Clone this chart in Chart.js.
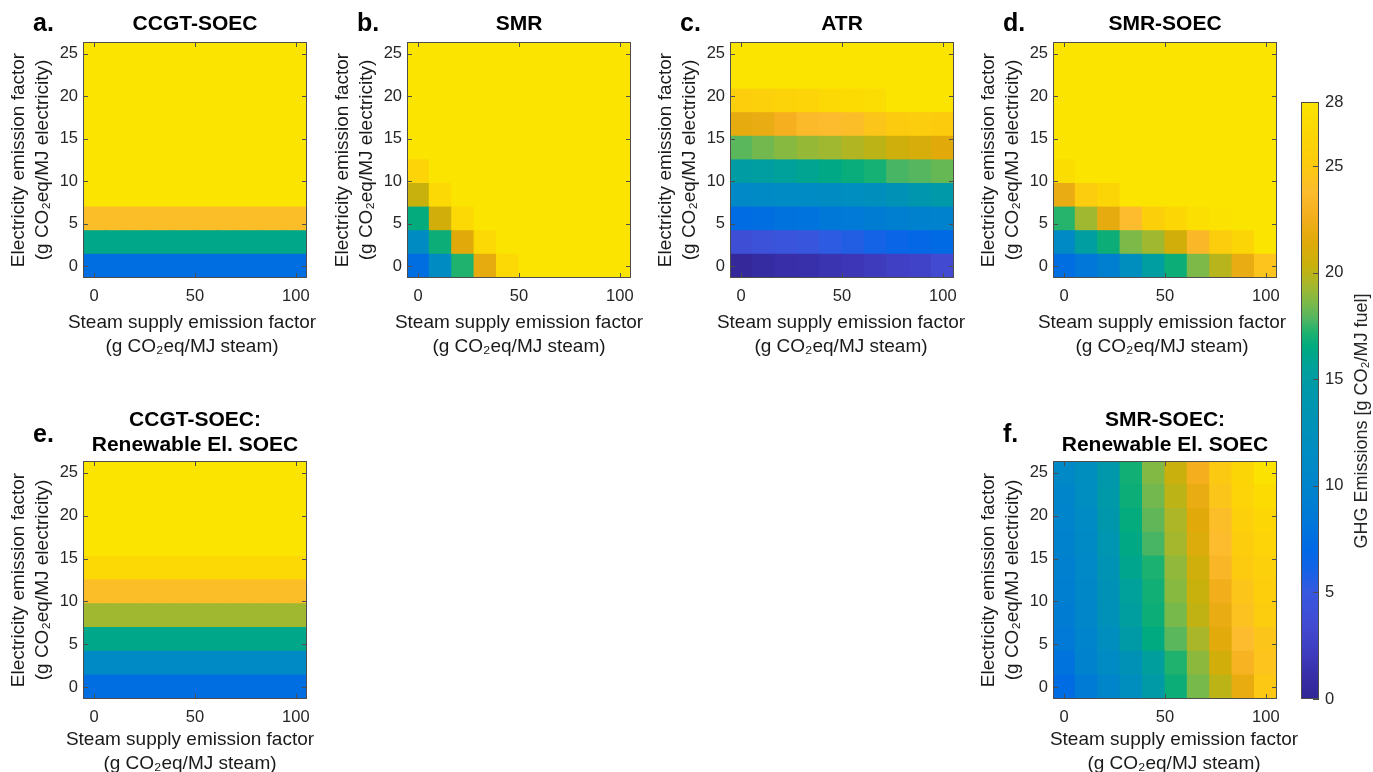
<!DOCTYPE html>
<html>
<head>
<meta charset="utf-8">
<script src="https://cdn.jsdelivr.net/npm/chart.js@4/dist/chart.umd.min.js"></script>
<style>
  html, body { margin: 0; padding: 0; background: #ffffff; width: 1373px; height: 772px; overflow: hidden; position: relative; }
  canvas { position: absolute; }
</style>
</head>
<body>
<canvas id="panelA" width="390" height="370" style="left:0px;top:0px"></canvas>
<canvas id="panelB" width="390" height="370" style="left:324px;top:0px"></canvas>
<canvas id="panelC" width="390" height="370" style="left:647px;top:0px"></canvas>
<canvas id="panelD" width="390" height="370" style="left:970px;top:0px"></canvas>
<canvas id="panelE" width="390" height="400" style="left:0px;top:381px"></canvas>
<canvas id="panelF" width="390" height="400" style="left:970px;top:381px"></canvas>
<canvas id="colorbar" width="93" height="640" style="left:1280px;top:80px"></canvas>
<script>
// ---------------- data ----------------
const steamValues = [0, 11.11, 22.22, 33.33, 44.44, 55.56, 66.67, 77.78, 88.89, 100];
const elecValues = [0, 2.778, 5.556, 8.333, 11.111, 13.889, 16.667, 19.444, 22.222, 25];
const xTickValues = [0, 50, 100];
const yTickValues = [0, 5, 10, 15, 20, 25];
const colorbarTicks = [0, 5, 10, 15, 20, 25, 28];
const colorMin = 0;
const colorMax = 28;

// rows: electricity factor from 0 (first row) to 25 (last row); columns: steam factor 0..100
const ghgCCGTSOEC = [
  [7.5, 7.5, 7.5, 7.5, 7.5, 7.5, 7.5, 7.5, 7.5, 7.5],
  [16.2, 16.2, 16.2, 16.2, 16.2, 16.2, 16.2, 16.2, 16.2, 16.2],
  [24, 24, 24, 24, 24, 24, 24, 24, 24, 24],
  [28, 28, 28, 28, 28, 28, 28, 28, 28, 28],
  [28, 28, 28, 28, 28, 28, 28, 28, 28, 28],
  [28, 28, 28, 28, 28, 28, 28, 28, 28, 28],
  [28, 28, 28, 28, 28, 28, 28, 28, 28, 28],
  [28, 28, 28, 28, 28, 28, 28, 28, 28, 28],
  [28, 28, 28, 28, 28, 28, 28, 28, 28, 28],
  [28, 28, 28, 28, 28, 28, 28, 28, 28, 28]
];
const ghgSMR = [
  [7.5, 11.5, 17.2, 21.8, 26.8, 28, 28, 28, 28, 28],
  [11.5, 16.8, 21.5, 26.8, 28, 28, 28, 28, 28, 28],
  [16.6, 20.8, 26.8, 28, 28, 28, 28, 28, 28, 28],
  [20.3, 26.8, 28, 28, 28, 28, 28, 28, 28, 28],
  [26.2, 28, 28, 28, 28, 28, 28, 28, 28, 28],
  [28, 28, 28, 28, 28, 28, 28, 28, 28, 28],
  [28, 28, 28, 28, 28, 28, 28, 28, 28, 28],
  [28, 28, 28, 28, 28, 28, 28, 28, 28, 28],
  [28, 28, 28, 28, 28, 28, 28, 28, 28, 28],
  [28, 28, 28, 28, 28, 28, 28, 28, 28, 28]
];
const ghgATR = [
  [0.3, 0.8, 1.1, 1.2, 1.5, 1.8, 2.1, 2.5, 2.8, 3.4],
  [4.0, 4.3, 4.5, 4.8, 5.3, 5.6, 6.0, 6.5, 6.8, 7.1],
  [7.3, 7.5, 7.8, 8.0, 8.4, 8.7, 9.0, 9.3, 9.6, 9.8],
  [11.0, 11.2, 11.3, 11.4, 11.6, 11.8, 12.2, 13.0, 14.0, 14.6],
  [15.0, 15.2, 15.5, 15.9, 16.3, 16.7, 17.0, 17.7, 17.9, 18.2],
  [18.0, 18.4, 18.8, 19.1, 19.3, 19.7, 20.0, 20.6, 21.0, 21.5],
  [21.8, 22.0, 22.8, 23.6, 23.8, 24.0, 24.6, 25.0, 25.2, 25.1],
  [25.5, 25.7, 26.0, 26.2, 26.8, 27.0, 27.2, 28, 28, 28],
  [28, 28, 28, 28, 28, 28, 28, 28, 28, 28],
  [28, 28, 28, 28, 28, 28, 28, 28, 28, 28]
];
const ghgSMRSOEC = [
  [7.5, 8.3, 9.3, 12.0, 15.2, 16.8, 18.6, 19.9, 22.0, 24.5],
  [11.2, 15.2, 16.8, 18.6, 19.3, 20.8, 23.5, 25.4, 26.4, 28],
  [17.3, 19.3, 21.8, 23.8, 25.6, 26.6, 27.5, 27.8, 28, 28],
  [22.0, 25.2, 26.4, 28, 28, 28, 28, 28, 28, 28],
  [27.3, 28, 28, 28, 28, 28, 28, 28, 28, 28],
  [28, 28, 28, 28, 28, 28, 28, 28, 28, 28],
  [28, 28, 28, 28, 28, 28, 28, 28, 28, 28],
  [28, 28, 28, 28, 28, 28, 28, 28, 28, 28],
  [28, 28, 28, 28, 28, 28, 28, 28, 28, 28],
  [28, 28, 28, 28, 28, 28, 28, 28, 28, 28]
];
const ghgCCGTRenewable = [
  [7.5, 7.5, 7.5, 7.5, 7.5, 7.5, 7.5, 7.5, 7.5, 7.5],
  [11.2, 11.2, 11.2, 11.2, 11.2, 11.2, 11.2, 11.2, 11.2, 11.2],
  [16.2, 16.2, 16.2, 16.2, 16.2, 16.2, 16.2, 16.2, 16.2, 16.2],
  [19.3, 19.3, 19.3, 19.3, 19.3, 19.3, 19.3, 19.3, 19.3, 19.3],
  [24, 24, 24, 24, 24, 24, 24, 24, 24, 24],
  [26.8, 26.8, 26.8, 26.8, 26.8, 26.8, 26.8, 26.8, 26.8, 26.8],
  [28, 28, 28, 28, 28, 28, 28, 28, 28, 28],
  [28, 28, 28, 28, 28, 28, 28, 28, 28, 28],
  [28, 28, 28, 28, 28, 28, 28, 28, 28, 28],
  [28, 28, 28, 28, 28, 28, 28, 28, 28, 28]
];
const ghgSMRSOECRenewable = [
  [7.3, 8.8, 10.3, 12.0, 14.7, 16.8, 18.5, 20.0, 21.9, 24.8],
  [8.0, 9.7, 11.3, 13.0, 15.4, 17.2, 18.9, 20.8, 23.0, 24.5],
  [8.6, 10.0, 12.0, 14.8, 16.5, 18.0, 19.5, 21.6, 23.8, 24.6],
  [9.0, 10.4, 12.8, 15.3, 16.8, 18.5, 20.1, 22.0, 24.3, 25.2],
  [9.3, 10.6, 13.0, 15.5, 16.9, 18.8, 20.3, 22.5, 24.6, 25.5],
  [9.5, 11.0, 13.3, 16.0, 17.1, 19.0, 20.6, 23.3, 25.0, 25.8],
  [9.7, 11.2, 13.7, 16.4, 17.7, 19.4, 21.2, 23.8, 25.4, 26.2],
  [10.0, 11.4, 14.2, 16.6, 18.1, 19.6, 21.5, 24.0, 25.8, 26.5],
  [10.3, 11.8, 14.6, 16.8, 18.4, 20.0, 22.0, 24.6, 26.2, 27.0],
  [10.8, 12.0, 14.5, 16.9, 18.7, 20.4, 22.7, 24.9, 26.4, 27.8]
];

const xAxisTitle = ['Steam supply emission factor', '(g CO\u2082eq/MJ steam)'];
const yAxisTitle = ['Electricity emission factor', '(g CO\u2082eq/MJ electricity)'];
const colorbarTitle = 'GHG Emissions [g CO\u2082/MJ fuel]';

// ---------------- colormap (parula-like, as seen in the colorbar) ----------------
const cmapStops = [0, 1, 2, 3.5, 5, 6, 7, 8.2, 9.7, 11.5, 13.5, 14.5, 15.5, 16.5, 17.2, 17.8, 18.6, 19.4, 20.3, 21.5, 22.7, 23.8, 25, 26.5, 28];
const cmapRGB = [
  [50,38,150],[55,45,165],[62,58,188],[65,75,210],[55,88,223],[20,98,230],[0,105,230],[0,118,218],
  [0,130,205],[0,140,195],[0,148,178],[0,152,170],[0,160,155],[0,170,128],[30,178,110],[80,182,98],
  [125,185,72],[165,183,45],[200,177,12],[225,170,10],[245,175,30],[252,188,45],[252,202,15],[252,214,5],[251,228,0]
];
function ghgColor(v) {
  const val = Math.max(colorMin, Math.min(colorMax, v));
  for (let i = 1; i < cmapStops.length; i++) {
    if (val <= cmapStops[i]) {
      const t = (val - cmapStops[i - 1]) / (cmapStops[i] - cmapStops[i - 1]);
      const a = cmapRGB[i - 1], b = cmapRGB[i];
      return 'rgb(' + a.map((c, k) => Math.round(c + (b[k] - c) * t)).join(',') + ')';
    }
  }
  const l = cmapRGB[cmapRGB.length - 1];
  return 'rgb(' + l.join(',') + ')';
}

// ---------------- chart setup ----------------
const FONT = '"Liberation Sans", Arial, Helvetica, sans-serif';
Chart.defaults.font.family = FONT;

const framePlugin = {
  id: 'frame',
  afterDraw(chart) {
    const { ctx, chartArea: a, scales } = chart;
    ctx.save();
    ctx.strokeStyle = '#4d4d4d';
    ctx.lineWidth = 1;
    const len = 5;
    ctx.beginPath();
    scales.x.ticks.forEach(t => {
      const px = Math.round(scales.x.getPixelForValue(t.value)) + 0.5;
      ctx.moveTo(px, a.bottom); ctx.lineTo(px, a.bottom - len);
      ctx.moveTo(px, a.top); ctx.lineTo(px, a.top + len);
    });
    scales.y.ticks.forEach(t => {
      const py = Math.round(scales.y.getPixelForValue(t.value)) + 0.5;
      ctx.moveTo(a.left, py); ctx.lineTo(a.left + len, py);
      ctx.moveTo(a.right, py); ctx.lineTo(a.right - len, py);
    });
    ctx.stroke();
    ctx.strokeRect(Math.round(a.left) + 0.5, Math.round(a.top) + 0.5, Math.round(a.right - a.left) - 1, Math.round(a.bottom - a.top) - 1);
    ctx.restore();
  }
};

// panel letter + x-axis title (drawn without width compression)
const labelPlugin = {
  id: 'panelLabels',
  afterDraw(chart, args, opts) {
    const { ctx, chartArea: a } = chart;
    ctx.save();
    ctx.fillStyle = '#000';
    ctx.font = 'bold 25px ' + FONT;
    ctx.textAlign = 'left';
    ctx.textBaseline = 'alphabetic';
    ctx.fillText(opts.letter, a.left - 50, a.top - opts.letterOffset);
    ctx.fillStyle = '#1a1a1a';
    ctx.font = '19px ' + FONT;
    ctx.textAlign = 'center';
    ctx.textBaseline = 'middle';
    const cx = (a.left + a.right) / 2 + opts.xTitleShift;
    opts.xTitle.forEach((line, i) => ctx.fillText(line, cx, a.bottom + opts.xTitleOffset + i * 24));
    ctx.restore();
  }
};

function makePanel(id, grid, titleLines, letter, bottomRow, xTitleShift) {
  const half = (elecValues[1] - elecValues[0]) / 2;
  const datasets = grid.map((row, r) => ({
    data: steamValues.map(s => ({ x: s, y: [elecValues[r] - half, elecValues[r] + half] })),
    backgroundColor: row.map(v => ghgColor(v)),
    borderWidth: 0,
    grouped: false,
    barPercentage: 1,
    categoryPercentage: 1,
    inflateAmount: 0.6,
    clip: 0
  }));
  return new Chart(document.getElementById(id), {
    type: 'bar',
    data: { datasets },
    options: {
      responsive: false,
      animation: false,
      devicePixelRatio: 1,
      events: [],
      layout: { padding: 0 },
      plugins: {
        legend: { display: false },
        tooltip: { enabled: false },
        title: {
          display: true,
          text: titleLines,
          color: '#000',
          font: { family: FONT, size: 21, weight: 'bold', lineHeight: 1.2 },
          padding: bottomRow ? { top: 26.9, bottom: 2.7 } : { top: 11.4, bottom: 5.4 }
        },
        panelLabels: { letter: letter, letterOffset: bottomRow ? 19 : 11, xTitle: xAxisTitle, xTitleOffset: bottomRow ? 41 : 45, xTitleShift: xTitleShift }
      },
      scales: {
        x: {
          type: 'linear', position: 'bottom', min: -5.556, max: 105.556, offset: false,
          grid: { display: false, drawTicks: false }, border: { display: false },
          afterBuildTicks: s => { s.ticks = xTickValues.map(v => ({ value: v })); },
          afterFit: s => { s.height = bottomRow ? 82 : 92; },
          ticks: { color: '#262626', font: { family: FONT, size: 16.5 }, padding: 8.5, maxRotation: 0, autoSkip: false },
          title: { display: false }
        },
        y: {
          type: 'linear', position: 'left', min: -1.389, max: 26.389,
          grid: { display: false, drawTicks: false }, border: { display: false },
          afterBuildTicks: s => { s.ticks = yTickValues.map(v => ({ value: v })); },
          afterFit: s => { s.width = 83; },
          ticks: { color: '#262626', font: { family: FONT, size: 16.5 }, padding: 5, autoSkip: false },
          title: { display: true, text: yAxisTitle, color: '#1a1a1a', font: { family: FONT, size: 19, lineHeight: 1.3 }, padding: { top: 6.2, bottom: 0 } }
        },
        yr: {
          type: 'linear', position: 'right', display: true,
          grid: { display: false, drawTicks: false }, border: { display: false },
          ticks: { display: false },
          afterFit: s => { s.width = 83; }
        }
      }
    },
    plugins: [framePlugin, labelPlugin]
  });
}

makePanel('panelA', ghgCCGTSOEC, 'CCGT-SOEC', 'a.', false, -3);
makePanel('panelB', ghgSMR, 'SMR', 'b.', false, 0);
makePanel('panelC', ghgATR, 'ATR', 'c.', false, -1);
makePanel('panelD', ghgSMRSOEC, 'SMR-SOEC', 'd.', false, -3);
makePanel('panelE', ghgCCGTRenewable, ['CCGT-SOEC:', 'Renewable El. SOEC'], 'e.', true, -5);
makePanel('panelF', ghgSMRSOECRenewable, ['SMR-SOEC:', 'Renewable El. SOEC'], 'f.', true, 9);

// ---------------- colorbar ----------------
const colorbarPlugin = {
  id: 'colorbarFill',
  beforeDatasetsDraw(chart) {
    const { ctx, chartArea: a, scales: { y } } = chart;
    const y0 = y.getPixelForValue(colorMin), y1 = y.getPixelForValue(colorMax);
    const g = ctx.createLinearGradient(0, y0, 0, y1);
    cmapStops.forEach((v, i) => g.addColorStop((v - colorMin) / (colorMax - colorMin), 'rgb(' + cmapRGB[i].join(',') + ')'));
    ctx.save();
    ctx.fillStyle = g;
    ctx.fillRect(a.left, y1, a.right - a.left, y0 - y1);
    ctx.restore();
  },
  afterDraw(chart) {
    const { ctx, chartArea: a, scales: { y } } = chart;
    ctx.save();
    ctx.strokeStyle = '#4d4d4d';
    ctx.lineWidth = 1;
    ctx.beginPath();
    y.ticks.forEach(t => {
      const py = Math.round(y.getPixelForValue(t.value)) + 0.5;
      ctx.moveTo(a.right, py); ctx.lineTo(a.right - 6, py);
    });
    ctx.stroke();
    ctx.strokeRect(Math.round(a.left) + 0.5, Math.round(a.top) + 0.5, Math.round(a.right - a.left) - 1, Math.round(a.bottom - a.top) - 1);
    ctx.translate(82, 341);
    ctx.rotate(-Math.PI / 2);
    ctx.fillStyle = '#262626';
    ctx.font = '18px ' + FONT;
    ctx.textAlign = 'center';
    ctx.textBaseline = 'middle';
    ctx.fillText(colorbarTitle, 0, 0);
    ctx.restore();
  }
};

new Chart(document.getElementById('colorbar'), {
  type: 'bar',
  data: { datasets: [] },
  options: {
    responsive: false,
    animation: false,
    devicePixelRatio: 1,
    events: [],
    layout: { padding: { left: 21, top: 22, bottom: 21, right: 0 } },
    plugins: { legend: { display: false }, tooltip: { enabled: false } },
    scales: {
      x: { type: 'linear', display: false, min: 0, max: 1 },
      y: {
        type: 'linear', position: 'right', min: colorMin, max: colorMax,
        grid: { display: false, drawTicks: false }, border: { display: false },
        afterBuildTicks: s => { s.ticks = colorbarTicks.map(v => ({ value: v })); },
        afterFit: s => { s.width = 54; },
        ticks: { color: '#262626', font: { family: FONT, size: 16.5 }, padding: 6, autoSkip: false }
      }
    }
  },
  plugins: [colorbarPlugin]
});
</script>
</body>
</html>
